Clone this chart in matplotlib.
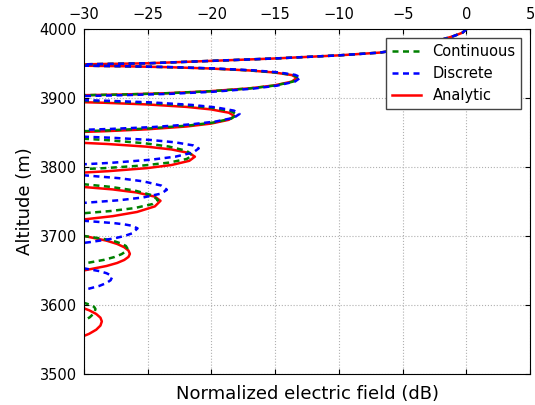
import matplotlib
matplotlib.use("Agg")
import matplotlib.pyplot as plt

# values, one row per lobe; -40 marks a null past the left edge
alt_analytic = [
    4000, 3995, 3990, 3985, 3980, 3975, 3970, 3966, 3962, 3957.5, 3954, 3950.5, 3949, 3948,
    3947, 3946.3, 3944.9, 3943.0, 3940.1, 3937.2, 3933.4, 3929.5, 3923.9, 3918.3, 3914.1, 3909.9, 3907.1, 3905.1, 3904.2, 3901,
    3897, 3894, 3893.2, 3890.8, 3887.2, 3883.6, 3878.8, 3874, 3868.5, 3863, 3858.8, 3854.7, 3851.9, 3851, 3848,
    3838, 3835, 3833.4, 3829.5, 3825.5, 3820.3, 3815, 3809, 3802.9, 3798.4, 3793.9, 3792, 3789,
    3774, 3771, 3767.5, 3763, 3757, 3751, 3742.9, 3734.8, 3728.7, 3724, 3721,
    3703, 3700, 3693.2, 3688.4, 3683.6, 3678.8, 3674, 3669.6, 3665.2, 3660.8, 3656.4, 3650, 3647,
    3598, 3595, 3592.2, 3586.8, 3581.4, 3576, 3570, 3564, 3558, 3555, 3550,
]
field_analytic = [
    0, -0.3, -1.0, -1.9, -2.9, -4.0, -5.3, -6.8, -10.0, -15.0, -20, -25, -30, -40,
    -30, -27.2, -23.5, -20.2, -17.05, -15.1, -13.7, -13.3, -13.7, -15.1, -17.05, -20.2, -23.5, -27.2, -30, -40,
    -40, -30, -28.4, -25.06, -21.95, -20.04, -18.64, -18.2, -18.64, -20.04, -21.95, -25.06, -28.4, -30, -40,
    -40, -30, -28.16, -25.05, -23.14, -21.74, -21.3, -21.74, -23.14, -25.05, -28.16, -30, -40,
    -40, -30, -27.75, -25.84, -24.44, -24.0, -24.44, -25.84, -27.75, -30, -40,
    -40, -30, -28.24, -27.4, -26.84, -26.51, -26.4, -26.51, -26.84, -27.4, -28.24, -30, -40,
    -40, -30, -29.6, -29.04, -28.71, -28.6, -28.71, -29.04, -29.6, -30, -40,
]

alt_continuous = [
    4000, 3995, 3990, 3985, 3980, 3975, 3970, 3966, 3962, 3957.5, 3954, 3950.5, 3949, 3948,
    3947, 3946.3, 3944.9, 3943.0, 3940.1, 3937.2, 3933.4, 3929.5, 3923.9, 3918.3, 3914.1, 3909.9, 3907.1, 3905.1, 3904.2, 3901,
    3899, 3896, 3895.1, 3892.7, 3889.1, 3885.6, 3880.8, 3876, 3870.3, 3864.6, 3860.3, 3856, 3853.1, 3852, 3849,
    3844, 3841, 3839.3, 3834.5, 3829.7, 3823.4, 3817, 3811.7, 3806.4, 3802.4, 3798.4, 3797, 3794,
    3778, 3775, 3771.3, 3766, 3759, 3752, 3746.2, 3740.4, 3736.1, 3733, 3730,
    3703, 3700, 3695.6, 3692.2, 3688.8, 3685.4, 3682, 3677.8, 3673.7, 3669.5, 3665.3, 3660, 3657,
    3606, 3603, 3600.3, 3597.2, 3594, 3588, 3582.1, 3577, 3574,
]
field_continuous = [
    0, -0.3, -1.0, -1.9, -2.9, -4.0, -5.3, -6.8, -10.0, -15.0, -20, -25, -30, -40,
    -30, -27.1, -23.4, -20.1, -16.95, -15.0, -13.6, -13.2, -13.6, -15.0, -16.95, -20.1, -23.4, -27.1, -30, -40,
    -40, -30, -28.2, -24.86, -21.75, -19.84, -18.44, -18.0, -18.44, -19.84, -21.75, -24.86, -28.2, -30, -40,
    -40, -30, -28.36, -25.25, -23.34, -21.94, -21.5, -21.94, -23.34, -25.25, -28.36, -30, -40,
    -40, -30, -27.95, -26.04, -24.64, -24.2, -24.64, -26.04, -27.95, -30, -40,
    -40, -30, -28.44, -27.6, -27.04, -26.71, -26.6, -26.71, -27.04, -27.6, -28.44, -30, -40,
    -40, -30, -29.54, -29.21, -29.1, -29.21, -29.54, -30, -40,
]

alt_discrete = [
    4000, 3995, 3990, 3985, 3980, 3975, 3970, 3966, 3962, 3957.5, 3954, 3950.5, 3949, 3948,
    3947, 3946.3, 3945, 3943.1, 3940.3, 3937.5, 3933.7, 3930, 3924.1, 3918.1, 3913.7, 3909.2, 3906.2, 3904.2, 3903, 3901,
    3900, 3897, 3896, 3893.7, 3890.1, 3886.5, 3881.8, 3877, 3871.5, 3866.1, 3862, 3857.9, 3855.2, 3854, 3851,
    3847, 3844, 3842.5, 3839.2, 3835.8, 3831.4, 3827, 3821, 3815, 3810.6, 3806.1, 3804, 3801,
    3791, 3788, 3783.8, 3779.2, 3773.1, 3767, 3761.5, 3755.9, 3751.8, 3748, 3745,
    3725, 3722, 3718.6, 3716.7, 3714.8, 3711, 3703.7, 3700.1, 3696.4, 3691, 3690, 3687,
    3656, 3653, 3649, 3646, 3643, 3640, 3635.8, 3631.7, 3627.5, 3623.4, 3622, 3619,
]
field_discrete = [
    0, -0.3, -1.0, -1.9, -2.9, -4.0, -5.3, -6.8, -10.0, -15.0, -20, -25, -30, -40,
    -30, -26.9, -23.2, -19.86, -16.75, -14.84, -13.44, -13.0, -13.44, -14.84, -16.75, -19.86, -23.2, -26.9, -30, -40,
    -40, -30, -28.0, -24.66, -21.55, -19.64, -18.24, -17.8, -18.24, -19.64, -21.55, -24.66, -28.0, -30, -40,
    -40, -30, -27.86, -24.75, -22.84, -21.44, -21.0, -21.44, -22.84, -24.75, -27.86, -30, -40,
    -40, -30, -27.25, -25.34, -23.94, -23.5, -23.94, -25.34, -27.25, -30, -40,
    -40, -30, -27.64, -26.8, -26.24, -25.8, -26.24, -26.8, -27.64, -29.55, -30, -40,
    -40, -30, -28.8, -28.24, -27.91, -27.8, -27.91, -28.24, -28.8, -29.64, -30, -40,
]

fig, ax = plt.subplots(figsize=(5.35, 4.05), dpi=100)
fig.subplots_adjust(left=0.157, right=0.991, top=0.928, bottom=0.077)

red, = ax.plot(field_analytic, alt_analytic, color="r", lw=1.8, label="Analytic")
green, = ax.plot(field_continuous, alt_continuous, color="g", lw=1.8,
                 dashes=(2.4, 1.8), label="Continuous")
blue, = ax.plot(field_discrete, alt_discrete, color="b", lw=1.8,
                dashes=(2.4, 1.8), label="Discrete")

ax.set_xlim(-30, 5)
ax.set_ylim(3500, 4000)
ax.set_xticks(range(-30, 6, 5))
ax.set_yticks(range(3500, 4001, 100))
ax.tick_params(direction="in", top=True, bottom=True, left=True, right=True,
               labeltop=True, labelbottom=False, labelsize=10.5, pad=5)
ax.xaxis.set_label_position("bottom")
ax.grid(True, linestyle=":", color="#b0b0b0", lw=0.8)

ax.set_xlabel("Normalized electric field (dB)", fontsize=13, labelpad=8)
ax.set_ylabel("Altitude (m)", fontsize=13)

ax.legend(handles=[green, blue, red], loc="upper right", fontsize=10.5,
          fancybox=False, framealpha=1, edgecolor="#444444", borderaxespad=0.6)

fig.savefig("out.png", dpi=100)
